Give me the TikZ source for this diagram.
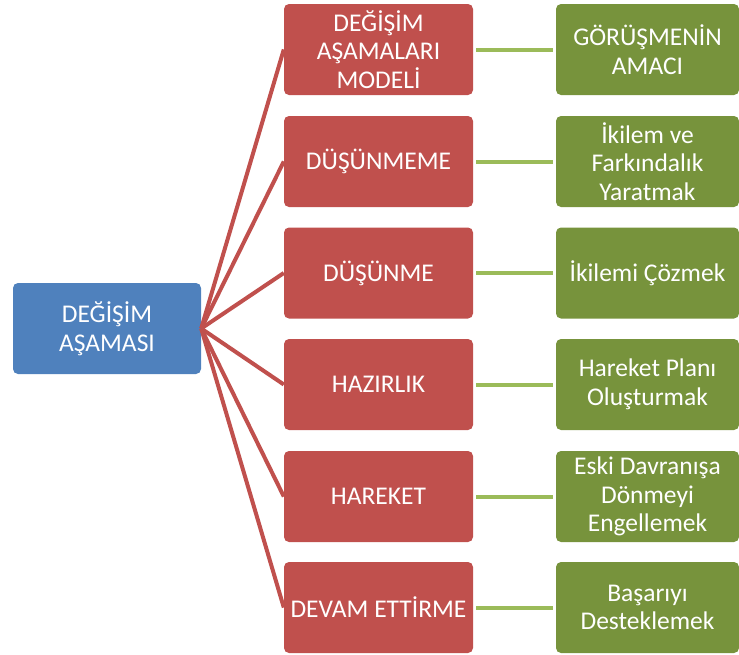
\documentclass[tikz,border=0pt]{standalone}
\usepackage{fontspec}
\setmainfont{Carlito}
\definecolor{cblue}{HTML}{4F81BD}
\definecolor{cred}{HTML}{C0504D}
\definecolor{cgreen}{HTML}{77933C}
\definecolor{clgreen}{HTML}{9BBB59}
\begin{document}
\begin{tikzpicture}[x=1pt,y=-1pt,
  box/.style={rounded corners=5pt, inner sep=0pt, text=white, align=center,
    font=\fontsize{25.5}{28.5}\selectfont, minimum height=91pt},
  bluebox/.style={box, fill=cblue, minimum width=188pt},
  redbox/.style={box, fill=cred, minimum width=189pt},
  greenbox/.style={box, fill=cgreen, minimum width=183pt},
  redline/.style={draw=cred, line width=4pt},
  greenline/.style={draw=clgreen, line width=4pt}]
\useasboundingbox (0,0) rectangle (739,654);
\node[bluebox] (root) at (107,328.5) {DEĞİŞİM\\AŞAMASI};
\node[redbox] (r1) at (378.5,49.5) {DEĞİŞİM\\AŞAMALARI\\MODELİ};
\node[redbox] (r2) at (378.5,161.5) {DÜŞÜNMEME};
\node[redbox] (r3) at (378.5,273) {DÜŞÜNME};
\node[redbox] (r4) at (378.5,384.5) {HAZIRLIK};
\node[redbox] (r5) at (378.5,496.5) {HAREKET};
\node[redbox] (r6) at (378.5,607.5) {DEVAM ETTİRME};
\node[greenbox] (g1) at (647.5,49.5) {GÖRÜŞMENİN\\AMACI};
\node[greenbox] (g2) at (647.5,161.5) {İkilem ve\\Farkındalık\\Yaratmak};
\node[greenbox] (g3) at (647.5,273) {İkilemi Çözmek};
\node[greenbox] (g4) at (647.5,384.5) {Hareket Planı\\Oluşturmak};
\node[greenbox] (g5) at (647.5,496.5) {Eski Davranışa\\Dönmeyi\\Engellemek};
\node[greenbox] (g6) at (647.5,607.5) {Başarıyı\\Desteklemek};
\foreach \i in {1,...,6}{
  \draw[redline] (root.east) -- (r\i.west);
  \draw[greenline] ([xshift=3pt]r\i.east) -- ([xshift=-3pt]g\i.west);
}
\end{tikzpicture}
\end{document}
